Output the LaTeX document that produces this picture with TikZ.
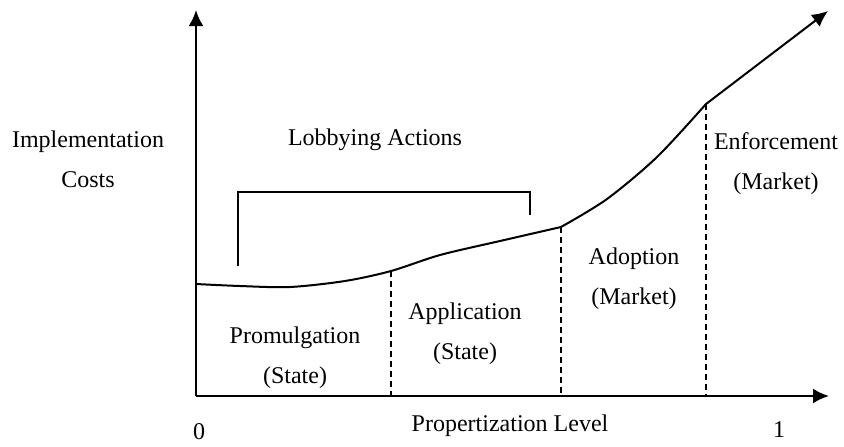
\documentclass[tikz,border=0pt]{standalone}
\usepackage{fontspec}
\setmainfont{Liberation Serif}
\usetikzlibrary{arrows.meta}

\begin{document}
\begin{tikzpicture}[x=0.5pt, y=-0.5pt,
% common options for labels:
lbl/.style = {inner sep=0, align=center, font=\fontsize{12}{14}\selectfont},
% common options for the axes:
axis/.style = {line width=1.2pt, -{Latex[length=8pt, width=7.5pt]}},
% options for the stage borders:
stage/.style = {line width=0.9pt, dash pattern=on 3pt off 2pt}]
\useasboundingbox (0,0) rectangle (844,446);
\coordinate (O) at (196,396);
\coordinate (Ytop) at (196,10);
\coordinate (Xend) at (829,396);
\coordinate (P1) at (391,271);
\coordinate (P2) at (561,227);
\coordinate (P3) at (706,104);
\coordinate (Tip) at (828,11);
\coordinate (B1) at (238,266);
\coordinate (B2) at (238,192);
\coordinate (B3) at (530,192);
\coordinate (B4) at (530,215);
\draw[axis] (O) -- (Ytop);
\draw[axis] (O) -- (Xend);
\draw[line width=1pt, -{Latex[length=8pt, width=7.5pt]}]
  plot[smooth] coordinates {(196,284) (240,286) (290,287) (345,281) (P1) (440,255) (500,241) (P2)}
  plot[smooth] coordinates {(P2) (607,199) (657,157) (P3)} -- (Tip);
\draw[line width=1pt] (B1) -- (B2) -- (B3) -- (B4);
\draw[stage] (P1) -- (P1 |- O);
\draw[stage] (P2) -- (P2 |- O);
\draw[stage] (P3) -- (P3 |- O);
\node[lbl] (Ycap) at (88,159) {Implementation\\[6pt]Costs};
\node[lbl] (Lobby) at (375,140) {Lobbying Actions};
\node[lbl] (Enf) at (776,164) {Enforcement\\[6pt](Market)};
\node[lbl] (Adop) at (634,279) {Adoption\\[6pt](Market)};
\node[lbl] (Appl) at (465,334) {Application\\[6pt](State)};
\node[lbl] (Prom) at (295,358) {Promulgation\\[6pt](State)};
\node[lbl] (Zero) at (199,432) {0};
\node[lbl] (Xcap) at (510,426) {Propertization Level};
\node[lbl] (One) at (779,430) {1};
\end{tikzpicture}
\end{document}
